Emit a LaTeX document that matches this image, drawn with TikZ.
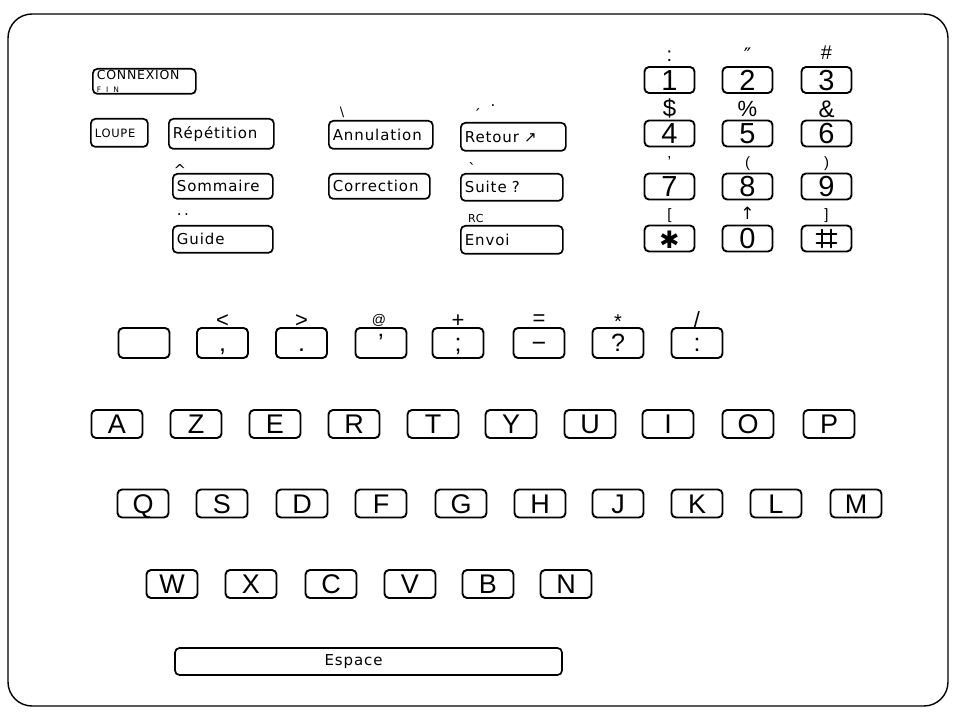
\documentclass[tikz,border=0pt]{standalone}
\usepackage{fontspec}
\setmainfont{Liberation Sans}
\newfontfamily\hand[LetterSpace=6]{DejaVu Sans}
\newfontfamily\dvs{DejaVu Sans}
\begin{document}
\begin{tikzpicture}[x=1pt,y=-1pt,
  keybox/.style={draw, line width=1.9pt, rounded corners=4.5pt, inner sep=0pt},
  lkey/.style={keybox, minimum width=51pt, minimum height=28pt, font=\fontsize{27}{27}\selectfont, text height=19.3pt, text depth=0pt},
  pkey/.style={keybox, minimum width=51pt, minimum height=30pt, font=\fontsize{25}{25}\selectfont, text height=18pt, text depth=0pt},
  nkey/.style={keybox, minimum width=50pt, minimum height=26pt, font=\fontsize{29}{29}\selectfont, text height=20.8pt, text depth=0pt},
  fkey/.style={keybox, line width=1.7pt, inner xsep=4pt, align=left, anchor=north west, font=\hand\fontsize{15}{15}\selectfont},
  sym/.style={inner sep=0pt, anchor=base, font=\fontsize{20}{20}\selectfont},
  accmark/.style={inner sep=0pt, anchor=base, font=\hand\fontsize{15}{15}\selectfont},
  frame/.style={line width=1.4pt, rounded corners=24pt},
  glyphline/.style={line width=1.7pt, line cap=round}
]
\useasboundingbox (0,0) rectangle (954,722);
\draw[frame] (8,14) rectangle (948,706);

% function keys
\node[fkey, text width=95pt, minimum height=25pt] (conn) at (92,68)
  {{\fontsize{12.5}{10}\selectfont CONNEXION}\\[-2pt]{\fontsize{7.5}{7.5}\selectfont F I N}};
\node[fkey, text width=49pt, minimum height=28pt, font=\hand\fontsize{11.5}{11.5}\selectfont] (loupe) at (90,118) {LOUPE};
\node[fkey, text width=97pt, minimum height=30pt] (rep) at (168,118) {Répétition};
\node[fkey, text width=96pt, minimum height=28pt] (annul) at (328,120) {Annulation};
\node[fkey, text width=97pt, minimum height=28pt] (retour) at (460,122) {Retour {\dvs ↗}};
\node[fkey, text width=92pt, minimum height=25pt] (somm) at (172,173) {Sommaire};
\node[fkey, text width=93pt, minimum height=25pt] (corr) at (328,173) {Correction};
\node[fkey, text width=94pt, minimum height=27pt] (suite) at (460,173) {Suite ?};
\node[fkey, text width=92pt, minimum height=27pt] (guide) at (172,225) {Guide};
\node[fkey, text width=94pt, minimum height=28pt] (envoi) at (460,225) {Envoi};

% marks above function keys
\node[accmark] (mSomm) at (180,176) {\textasciicircum};
\node[accmark] (mGuide) at (183,216) {.\,.};
\node[accmark, font=\dvs\fontsize{13}{13}\selectfont] (mAnnul) at (342,117) {\textbackslash};
\node[accmark] (mRet1) at (477,121) {´};
\node[accmark] (mRet2) at (493,107) {.};
\node[accmark] (mSuite) at (472,175) {`};
\node[accmark, anchor=base west, font=\hand\fontsize{11}{11}\selectfont] (mEnvoi) at (468,223) {RC};

% numeric keypad
\node[nkey] (n1) at (669.5,80) {1};
\node[nkey] (n2) at (747.5,80) {2};
\node[nkey] (n3) at (826.5,80) {3};
\node[nkey] (n4) at (669.5,133.5) {4};
\node[nkey] (n5) at (747.5,133.5) {5};
\node[nkey] (n6) at (826.5,133.5) {6};
\node[nkey] (n7) at (669.5,186.5) {7};
\node[nkey] (n8) at (747.5,186.5) {8};
\node[nkey] (n9) at (826.5,186.5) {9};
\node[nkey, font=\dvs\fontsize{24}{24}\selectfont] (nstar) at (669.5,238.5) {✱};
\node[nkey] (n0) at (747.5,238.5) {0};
\node[nkey] (nhash) at (826.5,238.5) {};
% viewdata square symbol drawn as a shape
\draw[glyphline] ([xshift=-4.5pt,yshift=-9pt]nhash.center) -- ([xshift=-4.5pt,yshift=9pt]nhash.center);
\draw[glyphline] ([xshift=4.5pt,yshift=-9pt]nhash.center) -- ([xshift=4.5pt,yshift=9pt]nhash.center);
\draw[glyphline] ([xshift=-10pt,yshift=-4.5pt]nhash.center) -- ([xshift=10pt,yshift=-4.5pt]nhash.center);
\draw[glyphline] ([xshift=-10pt,yshift=4.5pt]nhash.center) -- ([xshift=10pt,yshift=4.5pt]nhash.center);

\node[sym] (s1) at (669.5,62) {:};
\node[sym, font=\dvs\fontsize{20}{20}\selectfont] (s2) at (747.5,63) {″};
\node[sym] (s3) at (826.5,60) {\#};
\node[sym, font=\fontsize{24}{24}\selectfont] (s4) at (669.5,117) {\$};
\node[sym, font=\fontsize{22}{22}\selectfont] (s5) at (747.5,117) {\%};
\node[sym, font=\fontsize{24}{24}\selectfont] (s6) at (826.5,118) {\&};
\node[sym, font=\fontsize{16}{16}\selectfont] (s7) at (669.5,168) {'};
\node[sym, font=\fontsize{15}{15}\selectfont] (s8) at (747.5,168) {(};
\node[sym, font=\fontsize{15}{15}\selectfont] (s9) at (826.5,168) {)};
\node[sym, font=\fontsize{15}{15}\selectfont] (sstar) at (669.5,220) {[};
\node[sym, font=\dvs\fontsize{17}{17}\selectfont] (s0) at (747.5,220) {↑};
\node[sym, font=\fontsize{15}{15}\selectfont] (shash) at (826.5,220) {]};

% punctuation row
\node[pkey] (p0) at (144,343) {};
\node[pkey] (p1) at (222.5,343) {,};
\node[pkey] (p2) at (301.5,343) {.};
\node[pkey] (p3) at (381,343) {'};
\node[pkey] (p4) at (458,343) {;};
\node[pkey] (p5) at (539,343) {−};
\node[pkey] (p6) at (618,343) {?};
\node[pkey] (p7) at (697,343) {:};
\node[sym, font=\fontsize{22}{22}\selectfont] (u1) at (222.5,327) {<};
\node[sym, font=\fontsize{22}{22}\selectfont] (u2) at (301.5,327) {>};
\node[sym, font=\fontsize{14}{14}\selectfont] (u3) at (379,325) {@};
\node[sym, font=\fontsize{22}{22}\selectfont] (u4) at (458,327) {+};
\node[sym, font=\fontsize{22}{22}\selectfont] (u5) at (539,326) {=};
\node[sym, text depth=0pt] (u6) at (618,329) {*};
\node[sym, font=\fontsize{22}{22}\selectfont] (u7) at (697,327) {/};

% letter rows
\foreach \l/\x in {A/117,Z/196,E/275,R/354,T/433,Y/511,U/590,I/668,O/748,P/829}
  \node[lkey] (k\l) at (\x,424) {\l};
\foreach \l/\x in {Q/143,S/222,D/302,F/381,G/461,H/540,J/618,K/697,L/776,M/856}
  \node[lkey] (k\l) at (\x,503.5) {\l};
\foreach \l/\x in {W/172,X/251,C/331,V/410,B/488,N/566}
  \node[lkey] (k\l) at (\x,584) {\l};

% space bar
\node[keybox, line width=1.7pt, minimum width=387pt, minimum height=27pt, font=\hand\fontsize{15}{15}\selectfont] (espace) at (368.5,661.5) {\hspace*{-30pt}Espace};
\end{tikzpicture}
\end{document}
